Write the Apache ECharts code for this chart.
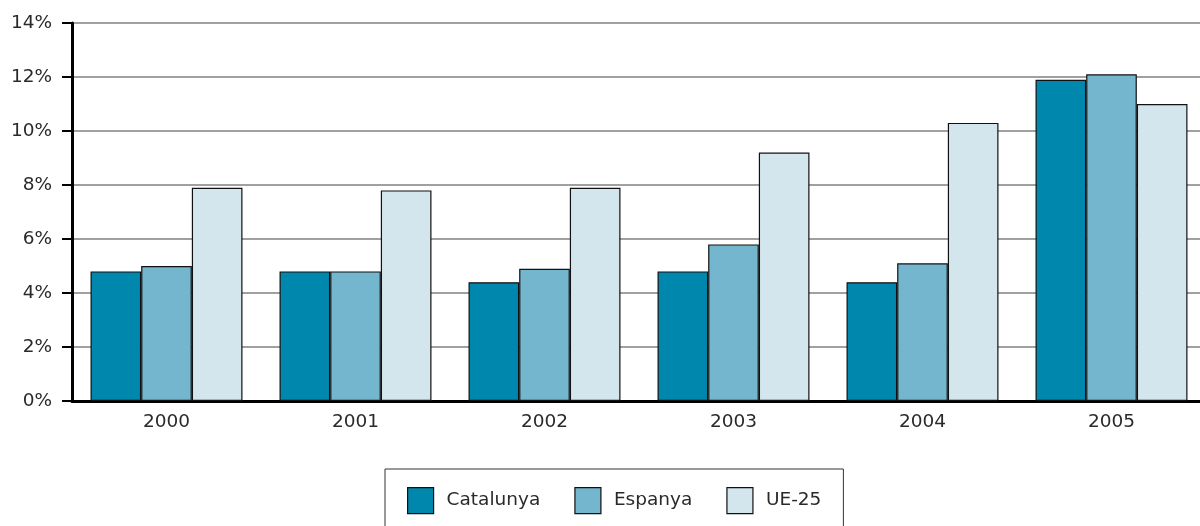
<!DOCTYPE html>
<html><head><meta charset="utf-8">
<script src="https://cdn.jsdelivr.net/npm/echarts@6/dist/echarts.min.js"></script>
<style>html,body{margin:0;padding:0;background:#fff;overflow:hidden;width:1200px;height:526px}#c{width:1210px;height:526px}</style>
</head><body><div id="c"></div>
<script>
var years = ['2000','2001','2002','2003','2004','2005'];
var catalunya = [4.8, 4.8, 4.4, 4.8, 4.4, 11.9];
var espanya = [5.0, 4.8, 4.9, 5.8, 5.1, 12.1];
var ue25 = [7.9, 7.8, 7.9, 9.2, 10.3, 11.0];
var seriesNames = ['Catalunya','Espanya','UE-25'];
var colors = ['#0087ad','#73b6ce','#d3e6ee'];
var font = 'DejaVu Sans';
var chart = echarts.init(document.getElementById('c'));
function s(name, data, color){
  return {name:name, type:'bar', data:data, barGap:'0%', barCategoryGap:'19.6%',
    itemStyle:{color:color, borderColor:'#111', borderWidth:1.2}};
}
chart.setOption({
  animation:false,
  grid:{left:72, top:23, width:1134, height:378, containLabel:false},
  legend:{data:seriesNames, left:385, top:469, padding:[18,22,40,22],
    borderColor:'#333', borderWidth:1, itemWidth:26, itemHeight:26, itemGap:34,
    icon:'rect', itemStyle:{borderColor:'#111', borderWidth:1.2},
    textStyle:{fontFamily:font, fontSize:18.5, color:'#2a2a2a', padding:[0,0,0,8]}},
  xAxis:{type:'category', data:years,
    axisLine:{lineStyle:{color:'#000', width:3}},
    axisTick:{length:8, lineStyle:{color:'#000', width:2}},
    axisLabel:{fontFamily:font, fontSize:18.5, color:'#2a2a2a', margin:12}},
  yAxis:{type:'value', min:0, max:14, interval:2,
    axisLine:{show:true, lineStyle:{color:'#000', width:3}},
    axisTick:{show:true, length:10, lineStyle:{color:'#000', width:2}},
    splitLine:{lineStyle:{color:'#808080', width:1.5}},
    axisLabel:{fontFamily:font, fontSize:18.5, color:'#2a2a2a', margin:20, formatter:'{value}%'}},
  series:[s(seriesNames[0], catalunya, colors[0]), s(seriesNames[1], espanya, colors[1]), s(seriesNames[2], ue25, colors[2])]
});
</script></body></html>
